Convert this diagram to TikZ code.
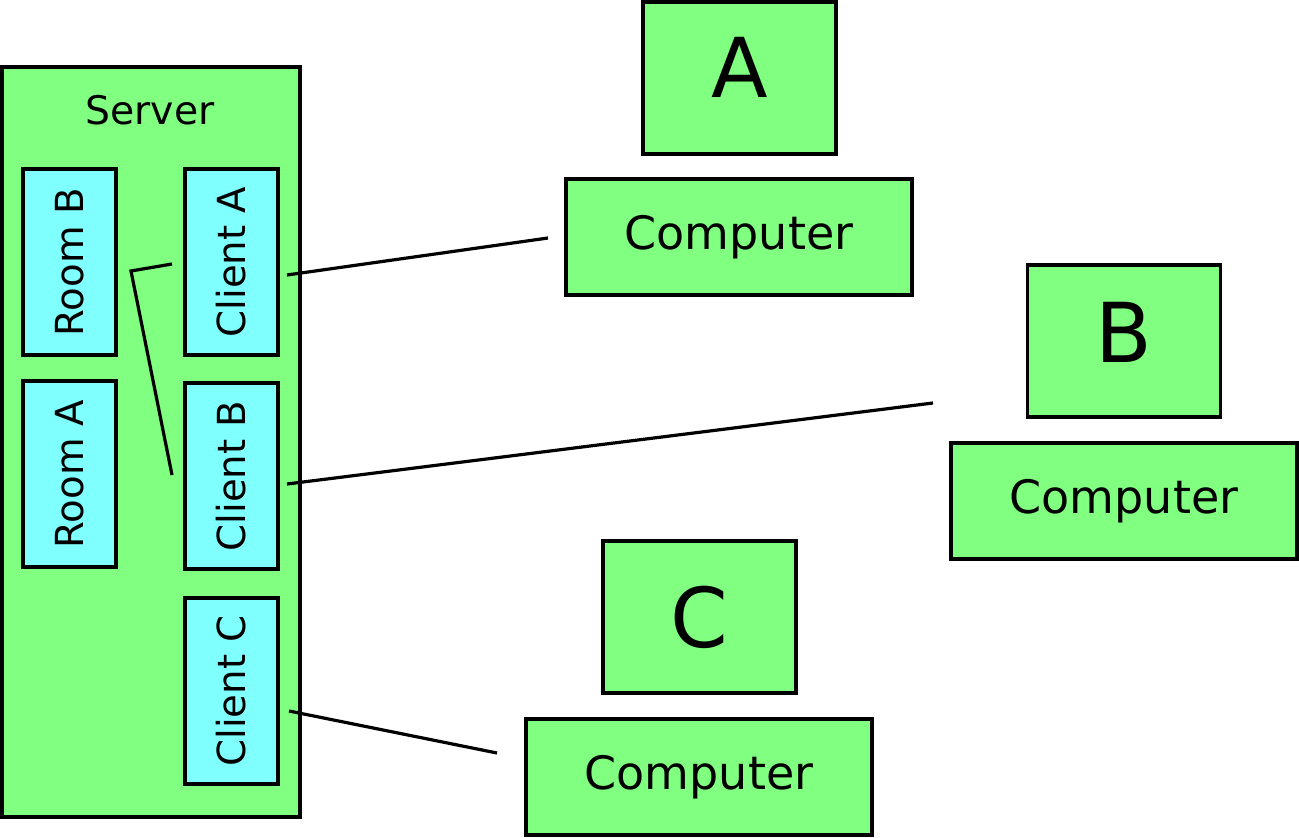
\documentclass[tikz,border=0pt]{standalone}
\usepackage{fontspec}
\setmainfont{DejaVu Sans}
\definecolor{boxgreen}{HTML}{80FF80}
\definecolor{boxcyan}{HTML}{80FFFF}
\begin{document}
\begin{tikzpicture}[x=0.75pt,y=-0.75pt,
  gbox/.style={draw=black,fill=boxgreen,line width=2.4pt,inner sep=0pt,rectangle},
  cbox/.style={draw=black,fill=boxcyan,line width=2.4pt,inner sep=0pt,rectangle,rotate=90,
    minimum width=139.5pt,minimum height=69.75pt,font=\fontsize{29}{30}\selectfont},
  comp/.style={gbox,minimum width=259.5pt,minimum height=87pt,font=\fontsize{34.5}{36}\selectfont},
  letter/.style={gbox,minimum width=144.75pt,minimum height=114pt,font=\fontsize{62}{64}\selectfont},
  wire/.style={line width=2.4pt}]
\useasboundingbox (0,0) rectangle (1299,838);
\node[gbox,minimum width=223.5pt,minimum height=562.5pt] (server) at (151,442) {};
\node[font=\fontsize{29.5}{30}\selectfont] (serverlbl) at (150,110) {Server};
\node[cbox] (roomB) at (69.5,262) {Room B};
\node[cbox] (roomA) at (69.5,474) {Room A};
\node[cbox] (clA) at (231.5,262) {Client A};
\node[cbox] (clB) at (231.5,476) {Client B};
\node[cbox] (clC) at (231.5,691) {Client C};
\node[letter,text depth=16.5pt] (A) at (739.5,78) {A};
\node[comp] (compA) at (739,237) {Computer};
\node[letter,text depth=12.75pt] (B) at (1124,341) {B};
\node[comp] (compB) at (1124,501) {Computer};
\node[letter] (C) at (699.5,617) {C};
\node[comp] (compC) at (699,777) {Computer};
\coordinate (a1) at (287,275);
\coordinate (a2) at (548,238);
\coordinate (b1) at (287,484);
\coordinate (b2) at (933,403);
\coordinate (c1) at (289,711);
\coordinate (c2) at (497,753);
\coordinate (p1) at (172,264);
\coordinate (p2) at (131,271);
\coordinate (p3) at (172,475);
\draw[wire] (a1) -- (a2);
\draw[wire] (b1) -- (b2);
\draw[wire] (c1) -- (c2);
\draw[wire] (p1) -- (p2) -- (p3);
\end{tikzpicture}
\end{document}
